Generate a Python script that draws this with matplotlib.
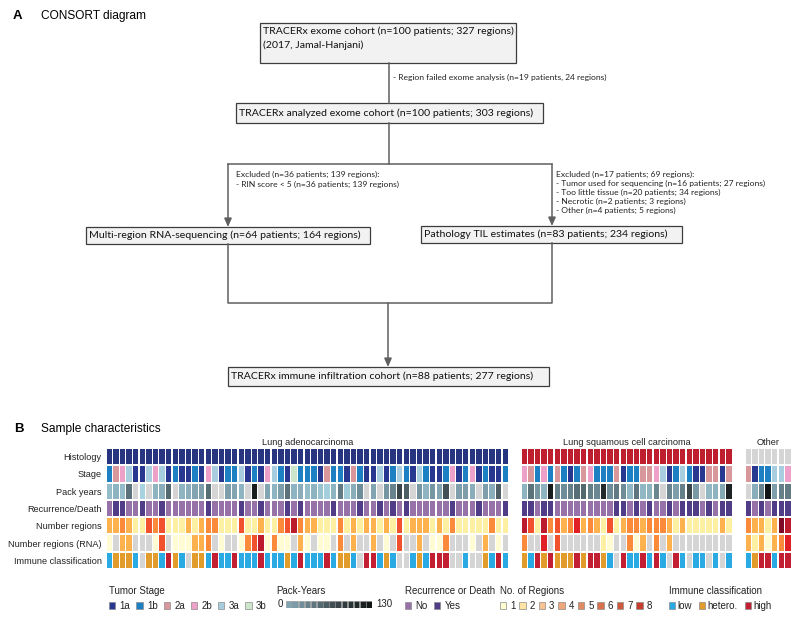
import numpy as np
import matplotlib
matplotlib.use("Agg")
import matplotlib.pyplot as plt
from matplotlib.patches import Rectangle, Patch
from matplotlib.colors import LinearSegmentedColormap

plt.rcParams['font.family'] = ['Liberation Sans', 'DejaVu Sans']
nan = np.nan

# ---------------- data ----------------
row_labels = ["Histology", "Stage", "Pack years", "Recurrence/Death",
              "Number regions", "Number regions (RNA)", "Immune classification"]

groups = ["Lung adenocarcinoma", "Lung squamous cell carcinoma", "Other"]
histology = ["LUAD", "LUSC", "Other"]

stage_luad = ("1b 2a 2b 3a 1a 1a 3a 2b 3a 1a 1b 1a 1a 1b 1a 2b 3a 1a 1b 1b 3a 1a 1b 1a 2b 3a 1b 1a 3b 1b "
              "1b 1b 1a 2a 1b 1b 1a 2a 1b 1a 1a 3a 1a 1b 3a 1b 1a 3a 1b 1a 1a 1b 2b 1a 1b 2b 1a 1b 1a 1a 1b").split()
stage_lusc = ("2b 2a 1b 2b 1b 2a 1b 1a 1b 2a 2b 1b 1b 1b 2a 1a 1b 1b 2a 2a 2b 3a 1a 1b 3a 1b 1a 1a "
              "2a 2a 1a 2a").split()
stage_oth = "2a 1a 1b 1b 3a 3a 2b".split()

pack_luad = [25, 30, 25, 70, nan, 10, nan, 30, 35, 75, nan, 30, 35, 40, 45, 72, nan, nan, 45, 40,
             30, nan, 125, nan, 40, 30, 45, 70, 30, 35, 25, 30, 20, 12, 30, 65, 15, 35, 55, nan,
             40, nan, 50, 60, 95, 80, nan, 50, 30, 50, 40, 88, nan, 45, 45, 35, nan, 45, 35, 80, nan]
pack_lusc = [30, 70, 50, 30, 125, 62, 55, 62, 72, 75, 62, 58, 115, 55, 65, 55, 28, 68, 28, 30,
             58, nan, 60, 45, 62, 95, 48, nan, 28, 30, 38, 120]
pack_oth = [nan, 35, 60, 130, 45, 62, 65]

rec_luad = [0, 1, 1, 0, 0, 1, 0, 0, 1, 0, 0, 0, 0, 0, 0, 1, 0, 0, 0, 0, 1, 0, 0, 1, 0, 0, 0, 1, 0, 1,
            0, 0, 0, 0, 1, 0, 0, 0, 1, 0, 0, 1, 0, 1, 0, 1, 0, 0, 0, 0, 0, 0, 1, 0, 0, 0, 1, 0, 0, 0, 1]
rec_lusc = [1, 1, 0, 1, 1, 0, 0, 0, 0, 0, 0, 0, 0, 0, 1, 1, 0, 1, 0, 1, 0, 0, 1, 0, 1, 1, 1, 0, 1, 0, 1, 1]
rec_oth = [1, 0, 1, 0, 1, 1, 1]

nreg_luad = [3, 3, 4, 3, 2, 2, 5, 4, 5, 2, 2, 2, 3, 2, 3, 4, 4, 2, 2, 2, 5, 2, 2, 3, 2, 2, 4, 5, 7, 4,
             3, 3, 2, 2, 2, 4, 2, 3, 2, 3, 3, 2, 3, 2, 5, 2, 3, 3, 3, 2, 3, 2, 4, 2, 2, 2, 2, 2, 4, 2, 2]
nreg_lusc = [7, 5, 2, 7, 4, 5, 3, 4, 6, 3, 4, 3, 2, 5, 2, 3, 4, 4, 3, 4, 4, 4, 3, 2, 3, 2, 2, 2, 2, 2, 3, 2]
nreg_oth = [4, 3, 3, 2, 3, 8, 7]

rna_luad = [1, 0, 3, 3, 0, 0, 0, 1, 5, 0, 1, 1, 1, 3, 3, 4, 0, 1, 0, 0, 1, 4, 5, 7, 1, 4, 1, 1, 0, 3,
            1, 0, 1, 1, 0, 4, 0, 3, 0, 0, 3, 0, 1, 0, 5, 0, 0, 3, 0, 1, 1, 4, 0, 0, 0, 1, 0, 3, 0, 1, 0]
rna_lusc = [4, 0, 0, 6, 0, 5, 0, 0, 0, 0, 0, 0, 2, 1, 0, 0, 4, 1, 3, 0, 4, 0, 3, 0, 0, 0, 0, 0, 0, 0, 0, 0]
rna_oth = [3, 2, 3, 1, 3, 4, 6]

imm_luad = ("low het het het low NA het het low high het low NA het het low high low low high "
            "low low low high low low low het low high low low low high low het het low NA high "
            "high low het low NA NA low het low high high high NA NA low NA NA het low high low").split()
imm_lusc = ("het low high het high het het het high het high high het low NA high low low high low "
            "high low NA high low NA low low NA low NA low").split()
imm_oth = "low het high high low high high".split()

stage_names = ["1a", "1b", "2a", "2b", "3a", "3b"]
region_names = ["1", "2", "3", "4", "5", "6", "7", "8"]
immune_names = ["low", "hetero.", "high"]

# ---------------- colours ----------------
c_hist = {"LUAD": "#27347f", "LUSC": "#bf1e2e", "Other": "#d5d5d5"}
c_stage = {"1a": "#283890", "1b": "#1c80c2", "2a": "#d8979b", "2b": "#eea1c8", "3a": "#a8cdde", "3b": "#cde6cb"}
c_rec = {0: "#9672a8", 1: "#503c87"}
c_nreg = ["#d5d5d5", "#fffbd2", "#fef0a2", "#fdb24e", "#fb8a3b", "#f2512e", "#e11f26", "#bc1a2d", "#7e0a25"]
c_imm = {"low": "#2aaae2", "het": "#e19c2b", "high": "#c21f32", "NA": "#d5d5d5"}
leg_nreg = ["#fffdd0", "#fee3a3", "#f8c493", "#eea67a", "#e38a62", "#d8704e", "#cf583d", "#c53f2f"]
pack_cmap = LinearSegmentedColormap.from_list(
    "pack", [(0, "#b3e1ef"), (0.38, "#7797a3"), (0.7, "#3e4b4f"), (1, "#121616")])


def pack_col(v):
    return "#d5d5d5" if np.isnan(v) else pack_cmap(v / 130)


def block_colors(hist, stage, pack, rec, nreg, rna, imm):
    n = len(stage)
    return [[c_hist[hist]] * n,
            [c_stage[s] for s in stage],
            [pack_col(v) for v in pack],
            [c_rec[r] for r in rec],
            [c_nreg[k] for k in nreg],
            [c_nreg[k] for k in rna],
            [c_imm[k] for k in imm]]


blocks = [block_colors(histology[0], stage_luad, pack_luad, rec_luad, nreg_luad, rna_luad, imm_luad),
          block_colors(histology[1], stage_lusc, pack_lusc, rec_lusc, nreg_lusc, rna_lusc, imm_lusc),
          block_colors(histology[2], stage_oth, pack_oth, rec_oth, nreg_oth, rna_oth, imm_oth)]

W, H = 800, 618
fig = plt.figure(figsize=(W / 100, H / 100), dpi=100)
ax = fig.add_axes([0, 0, 1, 1])
ax.set_xlim(0, W)
ax.set_ylim(H, 0)
ax.axis("off")


def px_rect(x0, y0, x1, y1):
    return [x0 / W, 1 - y1 / H, (x1 - x0) / W, (y1 - y0) / H]


# ---------------- panel A : CONSORT ----------------
ax.text(13, 16, "A", fontsize=9.5, fontweight="bold", va="center")
ax.text(41, 16, "CONSORT diagram", fontsize=8.6, va="center")

box_font = dict(family=["Lato", "DejaVu Sans"], fontsize=7.55, color="#111111")
note_font = dict(family=["Lato", "DejaVu Sans"], fontsize=6.1, color="#222222")
line_kw = dict(color="#5f5f5f", lw=1.1)


def box(x0, y0, x1, y1, lines, ys):
    ax.add_patch(Rectangle((x0, y0), x1 - x0, y1 - y0, facecolor="#f2f2f2",
                           edgecolor="#3d3d3d", lw=0.9))
    for t, y in zip(lines, ys):
        ax.text(x0 + 3, y, t, va="center", ha="left", **box_font)


def arrow(x, y0, y1):
    ax.annotate("", xy=(x, y1), xytext=(x, y0),
                arrowprops=dict(arrowstyle="-|>,head_length=0.5,head_width=0.22",
                                color="#5f5f5f", lw=1.1, shrinkA=0, shrinkB=0))


box(260, 23, 516, 63, ["TRACERx exome cohort (n=100 patients; 327 regions)",
                       "(2017, Jamal-Hanjani)"], [31, 45])
ax.plot([389, 389], [63, 103], **line_kw)
ax.text(393, 77, "- Region failed exome analysis (n=19 patients, 24 regions)", va="center", **note_font)
box(236, 103, 543, 123, ["TRACERx analyzed exome cohort (n=100 patients; 303 regions)"], [113])
ax.plot([389, 389], [123, 164], **line_kw)
ax.plot([228, 552], [164, 164], **line_kw)
arrow(228, 164, 227)
arrow(552, 164, 226)
for t, y in zip(["Excluded (n=36 patients; 139 regions):",
                 "- RIN score < 5 (n=36 patients; 139 regions)"], [174, 184]):
    ax.text(236, y, t, va="center", **note_font)
for t, y in zip(["Excluded (n=17 patients; 69 regions):",
                 "- Tumor used for sequencing (n=16 patients; 27 regions)",
                 "- Too little tissue (n=20 patients; 34 regions)",
                 "- Necrotic (n=2 patients; 3 regions)",
                 "- Other (n=4 patients; 5 regions)"], [174, 183, 192, 201, 210]):
    ax.text(556, y, t, va="center", **note_font)
box(86, 227, 370, 244, ["Multi-region RNA-sequencing (n=64 patients; 164 regions)"], [235.5])
box(421, 226, 682, 243, ["Pathology TIL estimates (n=83 patients; 234 regions)"], [234.5])
ax.plot([228, 228, 552, 552], [244, 303, 303, 243], **line_kw)
arrow(388, 303, 367)
box(228, 367, 549, 386, ["TRACERx immune infiltration cohort (n=88 patients; 277 regions)"], [376.5])

# ---------------- panel B : sample characteristics ----------------
ax.text(14, 429, "B", fontsize=9.5, fontweight="bold", va="center")
ax.text(41, 429, "Sample characteristics", fontsize=8.6, va="center")

block_px = [(106, 508.6), (521, 732.2), (745, 791.2)]
for (x0, x1), cols, title in zip(block_px, blocks, groups):
    bax = fig.add_axes(px_rect(x0, 448, x1, 569))
    n = len(cols[0])
    for r, colors in enumerate(cols):
        bax.bar(np.arange(n), 0.88, bottom=r - 0.44, width=0.82, color=colors, linewidth=0)
    bax.set_xlim(-0.5, n - 0.5)
    bax.set_ylim(len(cols) - 0.5, -0.5)
    for s in bax.spines.values():
        s.set_visible(False)
    bax.set_xticks([])
    bax.set_title(title, fontsize=6.7, pad=2.5, color="#222222")
    if x0 == 106:
        bax.set_yticks(range(len(row_labels)))
        bax.set_yticklabels(row_labels, fontsize=6.6, color="#222222")
        bax.tick_params(axis="y", length=0, pad=3)
    else:
        bax.set_yticks([])

# ---------------- legends ----------------
leg_kw = dict(loc="upper left", frameon=False, fontsize=7, title_fontsize=7, alignment="left",
              handlelength=0.65, handleheight=0.75, borderpad=0, borderaxespad=0,
              labelcolor="#222222")


def sq(c):
    return Patch(facecolor=c, edgecolor="#8c8c8c", lw=0.5)


def add_legend(x, title, colors, labels, pad, cs):
    lg = fig.legend([sq(c) for c in colors], labels, ncol=len(labels), title=title,
                    bbox_to_anchor=(x / W, 1 - 586 / H), handletextpad=pad,
                    columnspacing=cs, **leg_kw)
    lg.get_title().set_color("#222222")


add_legend(109, "Tumor Stage", [c_stage[s] for s in stage_names], stage_names, 0.45, 0.6)
add_legend(405, "Recurrence or Death", [c_rec[0], c_rec[1]], ["No", "Yes"], 0.45, 0.6)
add_legend(500, "No. of Regions", leg_nreg, region_names, 0.4, 0.4)
add_legend(669, "Immune classification", [c_imm["low"], c_imm["het"], c_imm["high"]],
           immune_names, 0.2, 0.75)

# pack-years scale
ax.text(276, 591, "Pack-Years", fontsize=7, va="center", color="#222222")
ax.text(283, 604, "0", fontsize=7, va="center", ha="right", color="#222222")
ax.text(376, 604, "130", fontsize=7, va="center", ha="left", color="#222222")
pax = fig.add_axes(px_rect(286, 600.5, 372, 607.5))
pack_steps = np.linspace(40, 130, 14)
pax.bar(np.arange(14), 1, width=0.9, color=[pack_cmap(v / 130) for v in pack_steps],
        edgecolor="#8c8c8c", linewidth=0.4)
pax.set_xlim(-0.5, 13.5)
pax.set_ylim(0, 1)
pax.axis("off")

fig.savefig("out.png", dpi=100)
